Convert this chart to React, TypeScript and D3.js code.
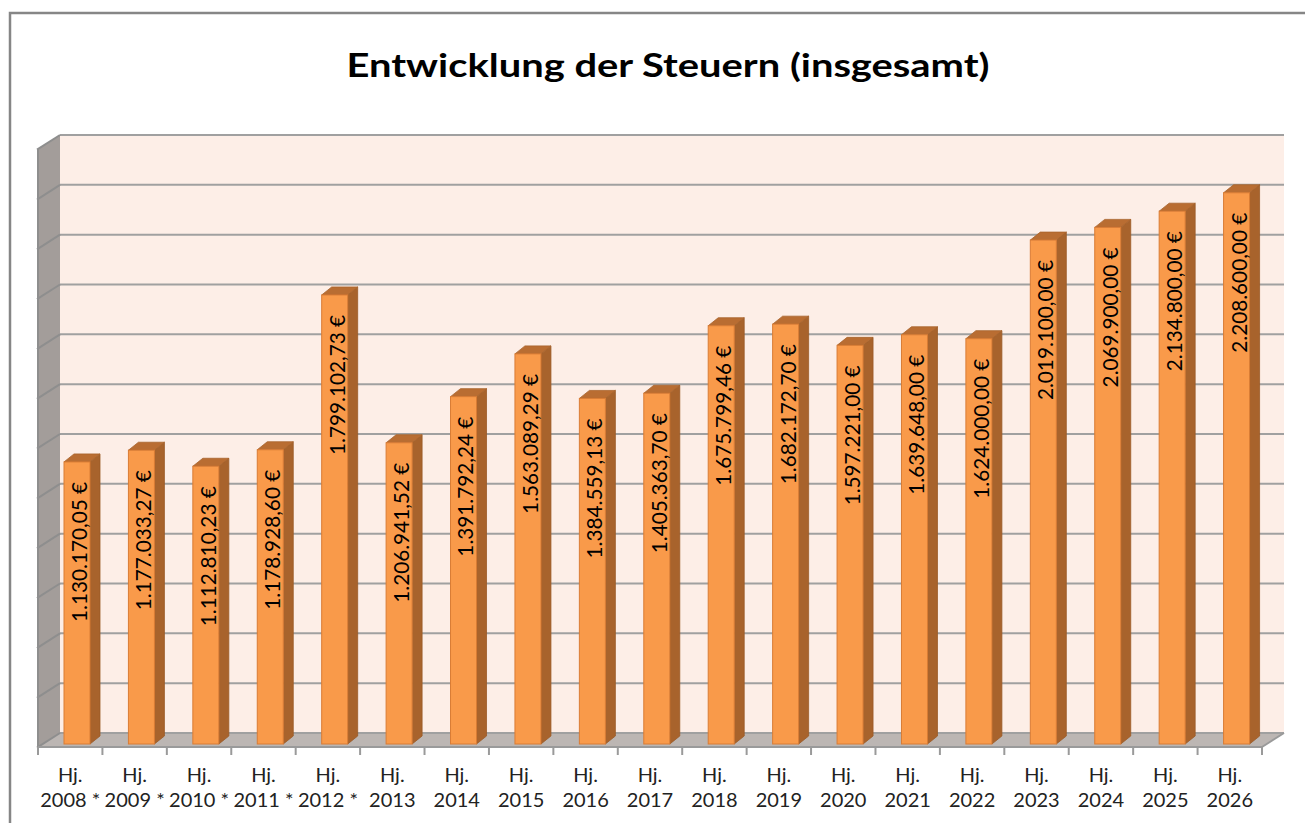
import React from 'react';
import * as d3 from 'd3';

const categories = [
  'Hj. 2008 *', 'Hj. 2009 *', 'Hj. 2010 *', 'Hj. 2011 *', 'Hj. 2012 *',
  'Hj. 2013', 'Hj. 2014', 'Hj. 2015', 'Hj. 2016', 'Hj. 2017',
  'Hj. 2018', 'Hj. 2019', 'Hj. 2020', 'Hj. 2021', 'Hj. 2022',
  'Hj. 2023', 'Hj. 2024', 'Hj. 2025', 'Hj. 2026'
];
const steuern = [
  1130170.05, 1177033.27, 1112810.23, 1178928.6, 1799102.73,
  1206941.52, 1391792.24, 1563089.29, 1384559.13, 1405363.7,
  1675799.46, 1682172.7, 1597221.0, 1639648.0, 1624000.0,
  2019100.0, 2069900.0, 2134800.0, 2208600.0
];
const yTicks = d3.range(0, 2400001, 200000);
const title = 'Entwicklung der Steuern (insgesamt)';

const W = 1305;
const H = 823;
// 3D offsets: floor / wall depth and bar depth
const depthX = 22;
const depthY = 14;
const barDX = 10;
const barDY = 8;
const barW = 26;

const de = d3.formatLocale({
  decimal: ',',
  thousands: '.',
  grouping: [3],
  currency: ['', ' €']
});
const fmt = de.format('$,.2f');

const App = () => {
  // front edge of floor
  const x = d3.scaleBand().domain(categories).range([38, 1262]).padding(0);
  // back wall value scale
  const y = d3.scaleLinear().domain([0, 2400000]).range([733, 135]);
  // bar front plane value scale
  const yBar = d3.scaleLinear().domain([0, 2400000]).range([744, 145]);

  const left = x.range()[0];
  const right = x.range()[1];
  const back0 = y(0);
  const wallTop = y(2400000);

  return (
    <svg width={W} height={H} style={{ position: 'absolute', left: 0, top: 0, background: '#fff' }}>
      <rect x={10} y={13} width={W + 20} height={H + 20} fill="#fff" stroke="#868686" strokeWidth={2.5} />
      <text x={668} y={77} textAnchor="middle" fontFamily="Lato, 'Open Sans', sans-serif" fontWeight="bold"
        fontSize={32} fill="#000" textLength={643} lengthAdjust="spacingAndGlyphs">{title}</text>

      {/* back wall */}
      <rect x={left + depthX} y={wallTop} width={right - left} height={back0 - wallTop} fill="#fdeee7" />
      {/* side wall */}
      <polygon points={`${left},${wallTop + depthY} ${left + depthX},${wallTop} ${left + depthX},${back0} ${left},${back0 + depthY}`}
        fill="#a39d9a" />
      {/* floor */}
      <polygon points={`${left},${back0 + depthY} ${left + depthX},${back0} ${right + depthX},${back0} ${right},${back0 + depthY}`}
        fill="#bcb6b3" />

      {yTicks.map(t => (
        <g key={t}>
          <line x1={left + depthX} x2={right + depthX} y1={y(t)} y2={y(t)} stroke="#a0a0a0" strokeWidth={2} />
          <line x1={left - 1} x2={left + depthX} y1={y(t) + depthY + 0.7} y2={y(t)} stroke="#8e8e8e" strokeWidth={2} />
        </g>
      ))}
      <line x1={left} x2={left} y1={wallTop + depthY} y2={back0 + depthY} stroke="#8e8e8e" strokeWidth={2} />
      <line x1={right} x2={right + depthX} y1={back0 + depthY} y2={back0} stroke="#9a9a9a" strokeWidth={2} />
      <line x1={left} x2={right} y1={back0 + depthY} y2={back0 + depthY} stroke="#9a9a9a" strokeWidth={2} />
      {d3.range(categories.length + 1).map(i => {
        const xx = left + i * x.bandwidth();
        return <line key={i} x1={xx} x2={xx} y1={back0 + depthY} y2={back0 + depthY + 8} stroke="#9a9a9a" strokeWidth={2} />;
      })}

      {categories.map((c, i) => {
        const v = steuern[i];
        const x0 = (x(c) as number) + 26;
        const top = yBar(v);
        const bottom = yBar(0);
        return (
          <g key={c}>
            <polygon points={`${x0 + barW},${top} ${x0 + barW + barDX},${top - barDY} ${x0 + barW + barDX},${bottom - barDY} ${x0 + barW},${bottom}`}
              fill="#a8632c" stroke="#9a5a27" strokeWidth={0.8} />
            <polygon points={`${x0},${top} ${x0 + barDX},${top - barDY} ${x0 + barW + barDX},${top - barDY} ${x0 + barW},${top}`}
              fill="#b96d32" stroke="#a8632c" strokeWidth={0.8} />
            <rect x={x0} y={top} width={barW} height={bottom - top} fill="#f99a4a" stroke="#d97c35" strokeWidth={1} />
            <text transform={`translate(${x0 + barW / 2 + 2},${top + 20}) rotate(-90)`} textAnchor="end" dy="0.36em"
              fontFamily="Lato, 'Open Sans', sans-serif" fontSize={22} fill="#000"
              textLength={140} lengthAdjust="spacingAndGlyphs">{fmt(v)}</text>
          </g>
        );
      })}

      {categories.map(c => {
        const cx = (x(c) as number) + x.bandwidth() / 2;
        const sp = c.indexOf(' ');
        return (
          <text key={c} x={cx} textAnchor="middle" fontFamily="Lato, 'Open Sans', sans-serif" fontSize={20} fill="#222">
            <tspan x={cx} y={782}>{c.slice(0, sp)}</tspan>
            <tspan x={cx} y={807}>{c.slice(sp + 1)}</tspan>
          </text>
        );
      })}
    </svg>
  );
};

export default App;
